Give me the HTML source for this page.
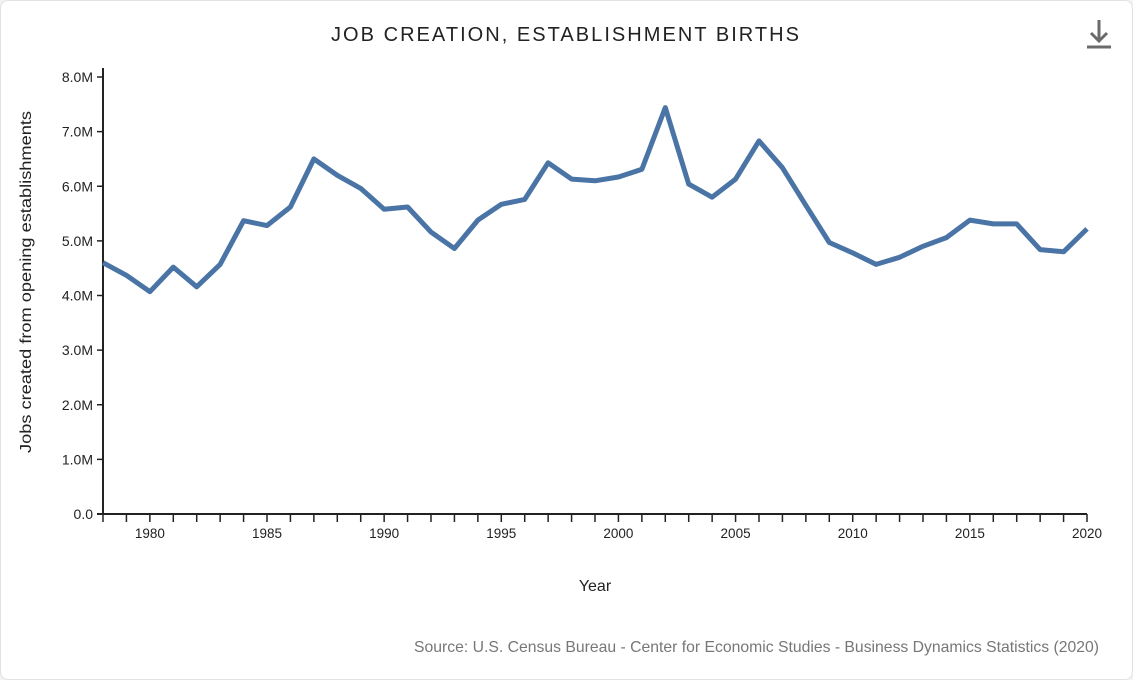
<!DOCTYPE html>
<html><head><meta charset="utf-8"><style>
body{margin:0;background:#f3f3f3;font-family:"Liberation Sans",sans-serif;}
.card{position:absolute;left:0;top:0;width:1131px;height:678px;background:#fff;border:1px solid #e2e2e2;border-radius:8px;}
</style></head><body>
<div class="card"></div>
<svg id="s" width="1133" height="680" style="position:absolute;left:0;top:0" font-family="Liberation Sans, sans-serif">
<text x="331" y="41" font-size="20" fill="#222" textLength="468" lengthAdjust="spacing">JOB CREATION, ESTABLISHMENT BIRTHS</text>
<g stroke="#6b6b6b" stroke-width="3" fill="none"><line x1="1099" y1="20" x2="1099" y2="40"/><polyline points="1091,33 1099,41 1107,33"/><line x1="1087" y1="47" x2="1111" y2="47"/></g>
<text transform="translate(31,282) rotate(-90)" text-anchor="middle" font-size="16" fill="#222" textLength="342" lengthAdjust="spacingAndGlyphs">Jobs created from opening establishments</text>
<text x="595" y="591" text-anchor="middle" font-size="16" fill="#222">Year</text>
<text x="414" y="652" font-size="16" fill="#777" textLength="685" lengthAdjust="spacingAndGlyphs">Source: U.S. Census Bureau - Center for Economic Studies - Business Dynamics Statistics (2020)</text>
<g id="ax"></g>
</svg>
<script>
var d=[4.6,4.37,4.07,4.52,4.16,4.57,5.37,5.28,5.62,6.5,6.2,5.96,5.58,5.62,5.16,4.86,5.38,5.67,5.76,6.43,6.13,6.1,6.17,6.31,7.44,6.04,5.8,6.13,6.83,6.34,5.65,4.97,4.78,4.57,4.7,4.9,5.06,5.38,5.31,5.31,4.84,4.8,5.22];
var x0=103,x1=1087,y0=514,y8=77,h='';
function X(i){return x0+(x1-x0)*i/42}function Y(v){return y0-(y0-y8)*v/8}
h+='<line x1="'+x0+'" y1="68" x2="'+x0+'" y2="'+y0+'" stroke="#222" stroke-width="2"/>';
h+='<line x1="'+(x0-6)+'" y1="'+y0+'" x2="'+x1+'" y2="'+y0+'" stroke="#222" stroke-width="2"/>';
for(var v=0;v<=8;v++){var y=Y(v);h+='<line x1="'+(x0-6)+'" y1="'+y+'" x2="'+x0+'" y2="'+y+'" stroke="#222" stroke-width="1.5"/><text x="'+(x0-10)+'" y="'+(y+5)+'" text-anchor="end" font-size="14" fill="#222">'+(v==0?'0.0':v+'.0M')+'</text>';}
for(var i=0;i<=42;i++){var x=X(i);h+='<line x1="'+x+'" y1="'+y0+'" x2="'+x+'" y2="'+(y0+8)+'" stroke="#222" stroke-width="1.5"/>';if((1978+i)%5==0)h+='<text x="'+x+'" y="'+(y0+24)+'" text-anchor="middle" font-size="13.5" fill="#222">'+(1978+i)+'</text>';}
var p=d.map(function(v,i){return X(i).toFixed(1)+','+Y(v).toFixed(1)}).join(' ');
h+='<polyline points="'+p+'" fill="none" stroke="#4a74a5" stroke-width="5" stroke-linejoin="round"/>';
document.getElementById('ax').innerHTML=h;
</script>
</body></html>
